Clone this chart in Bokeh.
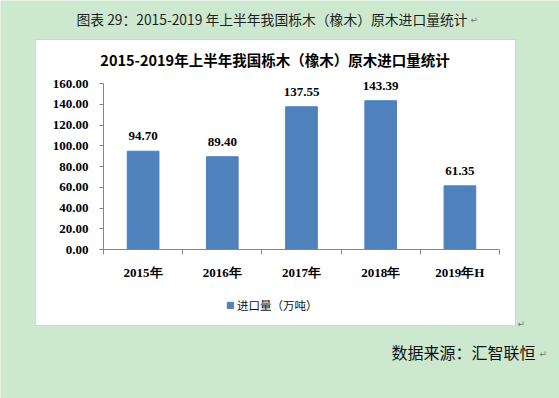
from bokeh.plotting import figure
from bokeh.models import (Range1d, FixedTicker, NumeralTickFormatter,
                          ColumnDataSource, LabelSet, Label, BoxAnnotation, Legend, LegendItem)
from bokeh.core.properties import value
from bokeh.embed import file_html
from bokeh.resources import INLINE

# ---------------- data ----------------
years = ["2015年", "2016年", "2017年", "2018年", "2019年H"]
imports = [94.70, 89.40, 137.55, 143.39, 61.35]
y_ticks = [0, 20, 40, 60, 80, 100, 120, 140, 160]
y_max = 160
caption = "图表 29：2015-2019 年上半年我国栎木（橡木）原木进口量统计"
chart_title = "2015-2019年上半年我国栎木（橡木）原木进口量统计"
series_name = "进口量（万吨）"
source_note = "数据来源：汇智联恒"

# ---------------- layout (page pixels) ----------------
W, H = 559, 398
BOX_L, BOX_T, BOX_R, BOX_B = 35, 39, 515, 325
PLOT_L, PLOT_R, PLOT_T, PLOT_B = 103, 499, 83, 249
BG = "#CCE8CF"
BAR = "#4F81BD"
AXIS = "#868686"
NUM_FONT = "Liberation Serif"
CJK_FONT = "Noto Sans CJK SC"

n = len(years)
centers = [i + 0.5 for i in range(n)]          # category slots on the index scale
src = ColumnDataSource(dict(pos=centers, year=years, imports=imports,
                            label=[f"{v:.2f}" for v in imports]))

# the frame fills the whole canvas; data ranges are chosen so that the
# category axis spans PLOT_L..PLOT_R and the value axis 0..y_max spans PLOT_B..PLOT_T
cat_px = (PLOT_R - PLOT_L) / n
val_px = (PLOT_B - PLOT_T) / y_max

p = figure(x_range=Range1d(-PLOT_L / cat_px, (W - PLOT_L) / cat_px),
           y_range=Range1d((PLOT_B - H) / val_px, PLOT_B / val_px),
           width=W, height=H, output_backend="svg", toolbar_location=None,
           x_axis_location="below", y_axis_location="left", title=None,
           min_border=0, border_fill_color=BG, background_fill_color=BG,
           outline_line_color=None)
p.grid.visible = False

# pixel-aligned helper ranges for decorations
p.extra_x_ranges = {"px": Range1d(0, W)}
p.extra_y_ranges = {"px": Range1d(H, 0)}

# white chart panel
p.add_layout(BoxAnnotation(left=BOX_L, right=BOX_R, top=BOX_T, bottom=BOX_B,
                           x_range_name="px", y_range_name="px",
                           fill_color="white", fill_alpha=1.0,
                           line_color="#A0A0A0", line_width=1, level="underlay"))

bars = p.vbar(x="pos", top="imports", width=0.4, source=src,
              fill_color=BAR, line_color=BAR)

# y axis
ya = p.yaxis[0]
ya.fixed_location = 0
ya.bounds = (0, y_max)
ya.ticker = FixedTicker(ticks=y_ticks)
ya.formatter = NumeralTickFormatter(format="0.00")
ya.axis_line_color = AXIS
ya.major_tick_line_color = AXIS
ya.major_tick_out = 4
ya.major_tick_in = 0
ya.minor_tick_line_color = None
ya.major_label_standoff = 11
ya.major_label_text_font = NUM_FONT
ya.major_label_text_font_style = "bold"
ya.major_label_text_font_size = "13px"
ya.major_label_text_color = "black"

# x axis: labels at category centres, tick marks between categories
xa = p.xaxis[0]
xa.fixed_location = 0
xa.bounds = (0, n)
xa.ticker = FixedTicker(ticks=centers, minor_ticks=list(range(n + 1)))
xa.major_label_overrides = {c: y for c, y in zip(centers, years)}
xa.axis_line_color = AXIS
xa.major_tick_line_color = None
xa.major_tick_out = 0
xa.major_tick_in = 0
xa.minor_tick_line_color = AXIS
xa.minor_tick_out = 5
xa.minor_tick_in = 0
xa.major_label_standoff = 10
xa.major_label_text_font = NUM_FONT
xa.major_label_text_font_style = "bold"
xa.major_label_text_font_size = "13px"
xa.major_label_text_color = "black"

# value labels
p.add_layout(LabelSet(x="pos", y="imports", text="label", source=src,
                      text_align="center", text_baseline="middle", y_offset=15,
                      text_font=value(NUM_FONT), text_font_style="bold",
                      text_font_size="13px", text_color="black"))

# legend (location in pixels from the frame's bottom-left corner)
leg = Legend(items=[LegendItem(label=value(series_name), renderers=[bars])],
             location=(226, H - 313), orientation="horizontal",
             glyph_width=8, glyph_height=8, label_height=8, label_width=10,
             label_standoff=3, padding=0, margin=0, spacing=0,
             border_line_color=None, background_fill_alpha=0,
             label_text_font=CJK_FONT, label_text_font_size="11.5px",
             label_text_color="#111111")
p.add_layout(leg)


def txt(x, y, t, size, align="left", bold=False, color="black", font=CJK_FONT):
    p.add_layout(Label(x=x, y=y, x_range_name="px", y_range_name="px", text=t,
                       text_align=align, text_baseline="middle", text_font=font,
                       text_font_style="bold" if bold else "normal",
                       text_font_size=size, text_color=color))


txt(76, 18, caption, "13.8px", color="#1E1E1E")
txt(470, 19, "↵", "9px", color="#777777", font="DejaVu Sans")
txt(274.5, 59, chart_title, "14.5px", align="center", bold=True)
txt(391, 351, source_note, "16px", color="#111111")
txt(539, 353, "↵", "9px", color="#777777", font="DejaVu Sans")
txt(517, 323, "↵", "9px", color="#777777", font="DejaVu Sans")

open("out.html", "w").write(file_html(p, INLINE))
